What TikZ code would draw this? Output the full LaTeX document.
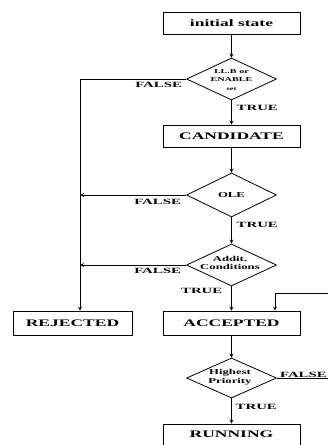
\documentclass[tikz,border=0pt]{standalone}
\usepackage{fontspec}
\setmainfont{Liberation Serif}
\usepackage{graphicx}
\usetikzlibrary{shapes.geometric}

\newcommand{\wide}[2][1.75]{\scalebox{#1}[1]{#2}}

\tikzset{
  statebox/.style={draw, line width=0.8pt, rectangle, minimum width=137pt,
    minimum height=22pt, inner sep=0pt, font=\fontsize{10}{12}\selectfont\bfseries},
  decision/.style={draw, line width=0.8pt, diamond, minimum width=90pt,
    minimum height=42pt, inner sep=0pt},
  dtext/.style={font=\fontsize{7.5}{8.5}\selectfont\bfseries, align=center, inner sep=0pt},
  branch/.style={font=\fontsize{8}{9}\selectfont\bfseries, inner sep=0pt},
  flow/.style={->, line width=0.8pt},
}

\begin{document}
\begin{tikzpicture}[>=stealth, x=1pt, y=1pt]
    \useasboundingbox (0,0) rectangle (328,-445);

    % Main column
    \node[statebox] (init) at (231.5,-23) {\wide{initial state}};
    \node[decision] (dia1) at (231.5,-79) {};
    \node[dtext] (d1txt) at (231.5,-80) {\fontsize{6}{7}\selectfont\wide[1.7]{I.L.B or}\\
        \fontsize{6}{7}\selectfont\wide[1.7]{ENABLE}\\
        \fontsize{5}{5}\selectfont\wide[1.7]{set}};
    \node[statebox] (cand) at (231.5,-136) {\wide{CANDIDATE}};
    \node[decision, minimum height=44pt] (ole) at (231.5,-195) {};
    \node[dtext] (oletxt) at (231.5,-195) {\wide[1.7]{OLE}};
    \node[decision] (addit) at (231.5,-265) {};
    \node[dtext] (addtxt) at (230,-263) {\wide[1.7]{Addit.}\\ \wide[1.7]{Conditions}};
    \node[statebox, minimum height=24pt] (acc) at (231.5,-323) {\wide{ACCEPTED}};
    \node[decision, minimum height=40pt] (high) at (231.5,-378) {};
    \node[dtext] (hightxt) at (230,-377) {\wide[1.7]{Highest}\\ \wide[1.7]{Priority}};
    \node[statebox, minimum height=21pt] (run) at (231.5,-434.5) {\wide{RUNNING}};

    % Rejected
    \node[statebox, minimum width=119pt, minimum height=24pt] (rej) at (72.5,-323) {\wide{REJECTED}};

    % TRUE paths
    \draw[flow] (init) -- (dia1);
    \draw[flow] (dia1) -- (cand);
    \draw[flow] (cand) -- (ole);
    \draw[flow] (ole) -- (addit);
    \draw[flow] (addit) -- (acc);
    \draw[flow] (acc) -- (high);
    \draw[flow] (high) -- (run);

    % FALSE paths
    \coordinate (lv) at (80,-79);
    \draw[flow] (dia1.west) -- (lv) -- (lv |- rej.north);
    \draw[flow] (ole.west) -- (ole.west -| lv);
    \draw[flow] (addit.west) -- (addit.west -| lv);

    % loop back runs just past the right edge
    \coordinate (fbr) at (329.5,-293);
    \coordinate (fbl) at (275,-293);
    \draw[flow] (high.east) -- (high.east -| fbr) -- (fbr) -- (fbl) -- (fbl |- acc.north);

    % Branch labels
    \node[branch, anchor=north east] (lf1) at ([xshift=-4pt,yshift=-3pt]dia1.west) {\wide[1.85]{FALSE}};
    \node[branch, anchor=north east] (lf2) at ([xshift=-5pt,yshift=-4pt]ole.west) {\wide[1.85]{FALSE}};
    \node[branch, anchor=north east] (lf3) at ([xshift=-5pt,yshift=-3pt]addit.west) {\wide[1.85]{FALSE}};
    \node[branch, anchor=south west] (lf4) at ([xshift=3pt,yshift=0.5pt]high.east) {\wide[1.85]{FALSE}};
    \node[branch, anchor=north west] (lt1) at ([xshift=5pt,yshift=-5pt]dia1.south) {\wide[1.85]{TRUE}};
    \node[branch, anchor=north west] (lt2) at ([xshift=5pt,yshift=-5pt]ole.south) {\wide[1.85]{TRUE}};
    \node[branch, anchor=north east] (lt3) at ([xshift=-9pt,yshift=-2pt]addit.south) {\wide[1.85]{TRUE}};
    \node[branch, anchor=north west] (lt4) at ([xshift=4pt,yshift=-6pt]high.south) {\wide[1.85]{TRUE}};
\end{tikzpicture}
\end{document}
